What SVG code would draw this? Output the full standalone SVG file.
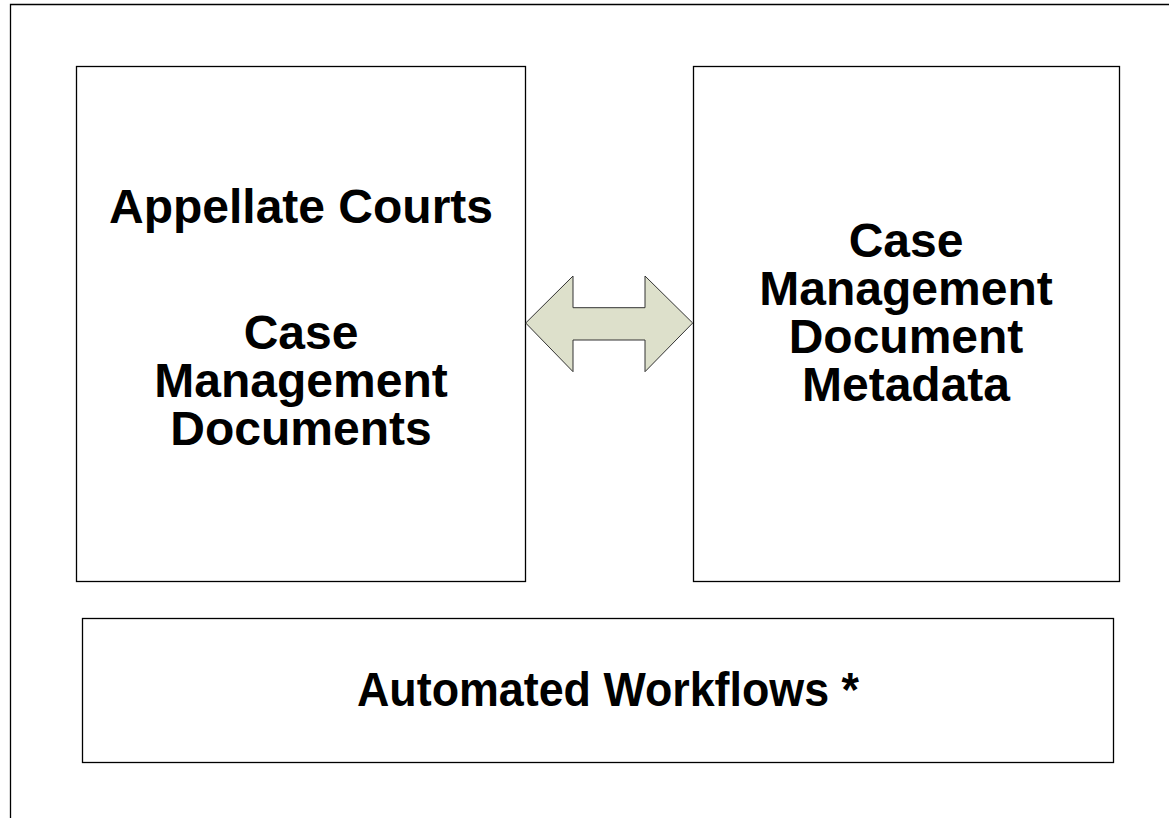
<svg xmlns="http://www.w3.org/2000/svg" width="1169" height="818" viewBox="0 0 1169 818">
  <style>
    .box { fill: #ffffff; stroke: #000000; stroke-width: 1.3; }
    .label { font-family: "Liberation Sans", Arial, sans-serif; font-weight: bold; font-size: 48px; fill: #000000; text-anchor: middle; }
  </style>
  <rect width="1169" height="818" fill="#ffffff"/>
  <!-- page frame -->
  <path d="M10.5 818 V4.5 H1169" fill="none" stroke="#000000" stroke-width="1.3"/>

  <g id="node-appellate">
    <rect class="box" x="76.5" y="66.5" width="449" height="515"/>
    <text class="label" x="301" y="223">Appellate Courts</text>
    <text class="label" x="301" y="349">Case</text>
    <text class="label" x="301" y="397">Management</text>
    <text class="label" x="301" y="445">Documents</text>
  </g>

  <g id="node-metadata">
    <rect class="box" x="693.5" y="66.5" width="426" height="515"/>
    <text class="label" x="906" y="257">Case</text>
    <text class="label" x="906" y="305">Management</text>
    <text class="label" x="906" y="353">Document</text>
    <text class="label" x="906" y="401">Metadata</text>
  </g>

  <g id="node-workflows">
    <rect class="box" x="82.5" y="618.5" width="1031" height="144"/>
    <text class="label" x="608" y="706" textLength="502" lengthAdjust="spacingAndGlyphs">Automated Workflows *</text>
  </g>

  <g id="connectors">
    <path d="M525.7 323 L573 276 V307.7 H645 V276 L692.7 323 L645 371.7 V340 H573 V371.7 Z" fill="#dde0cb" stroke="#333333" stroke-width="1"/>
  </g>
</svg>
